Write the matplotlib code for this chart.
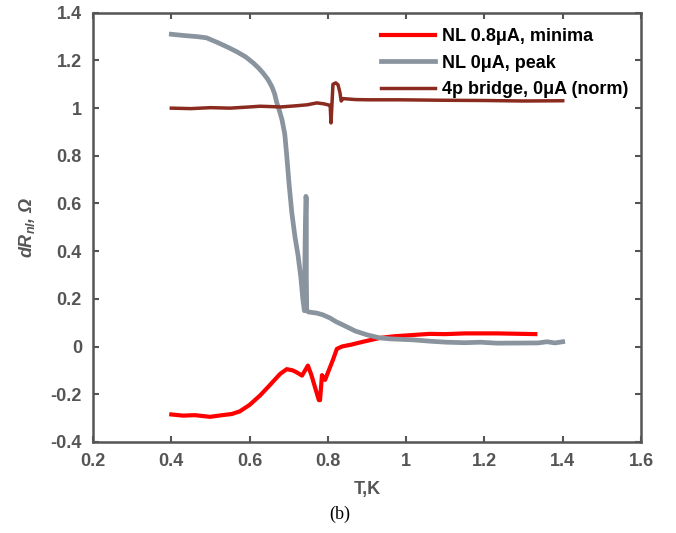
import matplotlib
matplotlib.use("Agg")
import matplotlib.pyplot as plt
from matplotlib.ticker import FuncFormatter

plt.rcParams['font.family'] = ['Liberation Sans', 'DejaVu Sans']
plt.rcParams['mathtext.default'] = 'regular'

# NL 0.8uA, minima (red)
red_T = [0.40, 0.43, 0.46, 0.499, 0.53, 0.555, 0.575, 0.60, 0.627, 0.65,
         0.678, 0.695, 0.71, 0.72, 0.734, 0.749, 0.758, 0.767, 0.777, 0.780,
         0.785, 0.793, 0.80, 0.813, 0.823, 0.836, 0.86, 0.89, 0.933, 0.97,
         1.06, 1.10, 1.15, 1.232, 1.33]
red_R = [-0.285, -0.29, -0.288, -0.295, -0.288, -0.283, -0.272, -0.245, -0.205, -0.165,
         -0.115, -0.095, -0.10, -0.108, -0.122, -0.08, -0.12, -0.17, -0.225, -0.225,
         -0.12, -0.14, -0.11, -0.056, -0.01, 0.0, 0.008, 0.02, 0.036, 0.043,
         0.053, 0.052, 0.055, 0.055, 0.052]

# NL 0uA, peak (grey)
grey_T = [0.40, 0.43, 0.466, 0.49, 0.52, 0.545, 0.568, 0.59, 0.609, 0.622,
          0.634, 0.647, 0.657, 0.664, 0.67, 0.677, 0.683, 0.69, 0.695, 0.701,
          0.708, 0.716, 0.724, 0.731, 0.736, 0.740, 0.742, 0.744, 0.745, 0.745,
          0.746, 0.75, 0.772, 0.787, 0.805, 0.82, 0.839, 0.849, 0.87, 0.90,
          0.933, 0.96, 1.017, 1.063, 1.104, 1.15, 1.19, 1.232, 1.337, 1.36,
          1.38, 1.40]
grey_R = [1.31, 1.305, 1.30, 1.295, 1.274, 1.255, 1.236, 1.215, 1.19, 1.17,
          1.148, 1.12, 1.09, 1.06, 1.02, 0.985, 0.95, 0.89, 0.80, 0.68,
          0.56, 0.46, 0.38, 0.29, 0.20, 0.15, 0.45, 0.63, 0.62, 0.30,
          0.15, 0.145, 0.14, 0.133, 0.12, 0.105, 0.09, 0.082, 0.065, 0.049,
          0.036, 0.032, 0.028, 0.022, 0.018, 0.016, 0.018, 0.014, 0.015, 0.02,
          0.015, 0.02]

# 4p bridge, 0uA (norm) (brown)
brown_T = [0.40, 0.45, 0.50, 0.55, 0.60, 0.627, 0.68, 0.72, 0.747, 0.772,
           0.79, 0.805, 0.806, 0.808, 0.810, 0.813, 0.82, 0.826, 0.831, 0.834,
           0.839, 0.87, 0.902, 0.984, 1.1, 1.2, 1.3, 1.40]
brown_R = [1.0, 0.998, 1.002, 1.0, 1.005, 1.008, 1.005, 1.01, 1.014, 1.022,
           1.018, 1.012, 1.01, 0.938, 1.0, 1.10, 1.106, 1.098, 1.064, 1.03,
           1.04, 1.036, 1.035, 1.035, 1.033, 1.032, 1.03, 1.031]

x_ticks = [0.2, 0.4, 0.6, 0.8, 1.0, 1.2, 1.4, 1.6]
y_ticks = [-0.4, -0.2, 0, 0.2, 0.4, 0.6, 0.8, 1.0, 1.2, 1.4]

axcol = '#555555'

fig = plt.figure(figsize=(6.76, 5.33), dpi=100)
ax = fig.add_axes([0.1376, 0.171, 0.8106, 0.805])

ax.plot(red_T, red_R, color='#ff0000', lw=3.0, label='NL 0.8μA, minima')
ax.plot(grey_T, grey_R, color='#8a949e', lw=3.4, label='NL 0μA, peak')
ax.plot(brown_T, brown_R, color='#8b2a1e', lw=2.5, label='4p bridge, 0μA (norm)')

ax.set_xlim(0.2, 1.6)
ax.set_ylim(-0.4, 1.4)
ax.set_xticks(x_ticks)
ax.set_yticks(y_ticks)
fmt = FuncFormatter(lambda v, p: '%g' % round(v, 2) if abs(v) > 1e-9 else '0')
ax.xaxis.set_major_formatter(fmt)
ax.yaxis.set_major_formatter(fmt)

for s in ax.spines.values():
    s.set_color(axcol)
    s.set_linewidth(1.8)
ax.tick_params(direction='in', top=True, right=True, length=4, width=1.5,
               color=axcol, labelcolor=axcol, labelsize=13)
ax.tick_params(axis='x', pad=8)
ax.tick_params(axis='y', pad=8)
for lab in ax.get_xticklabels() + ax.get_yticklabels():
    lab.set_fontweight('bold')

ax.set_xlabel('T,K', fontsize=13, fontweight='bold', color=axcol, labelpad=8)
ax.set_ylabel('dR$_{nl}$, Ω', fontsize=13, fontweight='bold', style='italic',
              color=axcol, labelpad=10)

leg = ax.legend(loc='upper left', bbox_to_anchor=(0.525, 0.964), frameon=False,
                borderpad=0, borderaxespad=0, handlelength=3.0, handletextpad=0.4,
                labelspacing=0.52, prop={'weight': 'bold', 'size': 13})

fig.text(0.503, 0.035, '(b)', fontsize=13, family='Liberation Serif',
         ha='center', va='center')

fig.savefig('out.png', dpi=100)
